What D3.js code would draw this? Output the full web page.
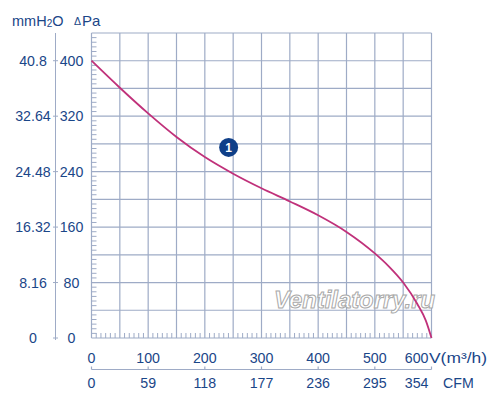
<!DOCTYPE html>
<html><head><meta charset="utf-8">
<script src="https://cdn.jsdelivr.net/npm/d3@7"></script>
<style>
html,body{margin:0;padding:0;background:#fff;}
svg{display:block;font-family:"Liberation Sans",Arial,sans-serif;}
</style></head>
<body><svg id="c" width="500" height="403"></svg>
<script>
// ---- data ----
const flow = [0, 50, 100, 150, 200, 250, 300, 350, 400, 450, 500, 525, 550, 575, 590, 600];
const pressure = [400, 361, 324, 290, 261, 237, 216, 197, 177, 153, 122, 103, 80, 49, 25, 0];
const paTicks = [0, 80, 160, 240, 320, 400];
const mmLabels = ["0", "8.16", "16.32", "24.48", "32.64", "40.8"];
const vTicks = [0, 100, 200, 300, 400, 500, 600];
const cfmLabels = ["0", "59", "118", "177", "236", "295", "354"];
const marker = {flow: 242, pa: 275, label: "1"};

const textCol = "#1a4688", gridCol = "#9eabc6", curveCol = "#c0317a";
const fs = 14.2;
const svg = d3.select("#c");
const x = d3.scaleLinear().domain([0, 600]).range([91.5, 431.5]);
const y = d3.scaleLinear().domain([0, 440]).range([338, 33]);

// grid
const g = svg.append("g");
g.selectAll("line.v").data(d3.range(0, 601, 50)).join("line").attr("class","v")
  .attr("x1", d => x(d)).attr("x2", d => x(d)).attr("y1", y(0)).attr("y2", y(440))
  .attr("stroke", gridCol).attr("stroke-width", 1.2);
g.selectAll("line.h").data(d3.range(0, 441, 40)).join("line").attr("class","h")
  .attr("x1", x(0)).attr("x2", x(600)).attr("y1", d => y(d)).attr("y2", d => y(d))
  .attr("stroke", gridCol).attr("stroke-width", 1.2);

// minor ticks
const minX = d3.range(0, 600, 50/6).filter((d, i) => i % 6 !== 0);
g.selectAll("line.mx").data(minX).join("line").attr("class","mx")
  .attr("x1", d => x(d)).attr("x2", d => x(d)).attr("y1", y(0)).attr("y2", y(0) - 5)
  .attr("stroke", gridCol).attr("stroke-width", 1);
const minY = d3.range(0, 440, 40/6).filter((d, i) => i % 6 !== 0);
g.selectAll("line.my").data(minY).join("line").attr("class","my")
  .attr("x1", x(0)).attr("x2", x(0) + 5).attr("y1", d => y(d)).attr("y2", d => y(d))
  .attr("stroke", gridCol).attr("stroke-width", 1);

// left scale line
svg.append("line").attr("x1", 55.5).attr("x2", 55.5).attr("y1", y(440)).attr("y2", y(0) + 2)
  .attr("stroke", gridCol).attr("stroke-width", 1);
svg.selectAll("line.lt").data(paTicks).join("line").attr("class","lt")
  .attr("x1", 53).attr("x2", 58).attr("y1", d => y(d)).attr("y2", d => y(d))
  .attr("stroke", gridCol).attr("stroke-width", 1);

// left labels
svg.selectAll("text.mm").data(mmLabels).join("text").attr("class","mm")
  .attr("x", 33).attr("y", (d, i) => y(paTicks[i]) + 5).attr("text-anchor", "middle")
  .attr("font-size", fs).attr("fill", textCol).text(d => d);
svg.selectAll("text.pa").data(paTicks).join("text").attr("class","pa")
  .attr("x", 71.5).attr("y", d => y(d) + 5).attr("text-anchor", "middle")
  .attr("font-size", fs).attr("fill", textCol).text(d => d);

// header
const h1 = svg.append("text").attr("x", 12).attr("y", 26).attr("font-size", 14.5).attr("fill", textCol);
h1.append("tspan").text("mmH");
h1.append("tspan").attr("font-size", 10).attr("dy", 1).text("2");
h1.append("tspan").attr("dy", -1).text("O");
const h2 = svg.append("text").attr("x", 74).attr("y", 26).attr("font-size", 15).attr("fill", textCol);
h2.append("tspan").attr("font-size", 10.5).attr("dy", -1).text("\u0394");
h2.append("tspan").attr("dy", 1).attr("dx", 1).text("Pa");

// bottom V axis labels
svg.selectAll("text.vt").data(vTicks).join("text").attr("class","vt")
  .attr("x", d => d === 600 ? x(d) - 3 : x(d)).attr("y", 363)
  .attr("text-anchor", d => d === 600 ? "end" : "middle")
  .attr("font-size", fs).attr("fill", textCol).text(d => d);
svg.append("text").attr("x", x(600) - 2.5).attr("y", 363).attr("font-size", fs).attr("fill", textCol)
  .attr("textLength", 58).attr("lengthAdjust", "spacingAndGlyphs").text("V(m\u00B3/h)");

// CFM axis line
svg.append("line").attr("x1", x(0)).attr("x2", x(600)).attr("y1", 369.5).attr("y2", 369.5)
  .attr("stroke", gridCol).attr("stroke-width", 1.2);
svg.selectAll("line.ct").data(vTicks).join("line").attr("class","ct")
  .attr("x1", d => x(d)).attr("x2", d => x(d)).attr("y1", 369.5).attr("y2", 366.5)
  .attr("stroke", gridCol).attr("stroke-width", 1.2);
svg.selectAll("text.cfm").data(cfmLabels).join("text").attr("class","cfm")
  .attr("x", (d, i) => i === cfmLabels.length - 1 ? x(vTicks[i]) - 3 : x(vTicks[i])).attr("y", 388)
  .attr("text-anchor", (d, i) => i === cfmLabels.length - 1 ? "end" : "middle")
  .attr("font-size", fs).attr("fill", textCol).text(d => d);
svg.append("text").attr("x", 443).attr("y", 388).attr("font-size", fs).attr("fill", textCol).text("CFM");

// watermark
svg.append("text").attr("x", 274).attr("y", 308).attr("font-size", 24).attr("font-style", "italic")
  .attr("font-weight", "bold")
  .attr("textLength", 161).attr("lengthAdjust", "spacingAndGlyphs")
  .attr("fill", "#ffffff").attr("stroke", "#a8a8a8").attr("stroke-width", 1)
  .text("Ventilatorry.ru");

// curve
const pts = flow.map((f, i) => [f, pressure[i]]);
svg.append("path").datum(pts)
  .attr("d", d3.line().x(d => x(d[0])).y(d => y(d[1])).curve(d3.curveMonotoneX))
  .attr("fill", "none").attr("stroke", curveCol).attr("stroke-width", 1.8);

// marker
svg.append("circle").attr("cx", x(marker.flow)).attr("cy", y(marker.pa)).attr("r", 9.5).attr("fill", "#0f3f88");
svg.append("text").attr("x", x(marker.flow)).attr("y", y(marker.pa) + 4.5).attr("text-anchor", "middle")
  .attr("font-size", 12).attr("font-weight", "bold").attr("fill", "#fff").text(marker.label);
</script></body></html>
